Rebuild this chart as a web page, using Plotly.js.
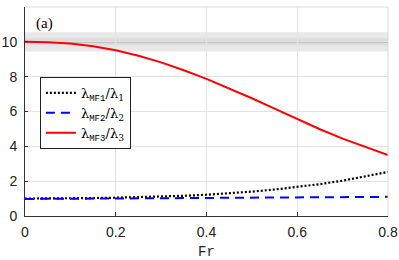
<!DOCTYPE html>
<html><head><meta charset="utf-8">
<script src="https://cdn.plot.ly/plotly-3.0.1.min.js"></script>
<style>html,body{margin:0;padding:0;background:#fff}#c{width:399px;height:260px}</style>
</head><body><div id="c"></div>
<script>
const fr = [0, 0.05, 0.1, 0.15, 0.2, 0.25, 0.3, 0.35, 0.4, 0.45, 0.5, 0.55, 0.6, 0.65, 0.7, 0.75, 0.8];
const ratio1 = [1.0, 1.0, 1.01, 1.03, 1.05, 1.08, 1.11, 1.16, 1.22, 1.3, 1.4, 1.52, 1.66, 1.83, 2.03, 2.26, 2.53];
const ratio2 = [0.98, 0.98, 0.99, 0.99, 1.0, 1.01, 1.02, 1.03, 1.04, 1.05, 1.06, 1.07, 1.08, 1.08, 1.09, 1.1, 1.1];
const ratio3 = [10.0, 9.98, 9.9, 9.75, 9.52, 9.2, 8.82, 8.37, 7.87, 7.32, 6.76, 6.16, 5.57, 4.98, 4.44, 3.95, 3.5];
const refLevel = 10;
const bandHalf = 0.55;
const names = [
  "λ<sub><span style='font-family:Liberation Mono'>MF1</span></sub>/λ<sub>1</sub>",
  "λ<sub><span style='font-family:Liberation Mono'>MF2</span></sub>/λ<sub>2</sub>",
  "λ<sub><span style='font-family:Liberation Mono'>MF3</span></sub>/λ<sub>3</sub>"
];
const xTicks = [0, 0.2, 0.4, 0.6, 0.8];
const yTicks = [0, 2, 4, 6, 8, 10, 12];

const traces = [
  {x: fr, y: ratio1, mode: 'lines', name: names[0], line: {color: '#000', width: 2.2, dash: '2px,2px'}},
  {x: fr, y: ratio2, mode: 'lines', name: names[1], line: {color: '#0000ff', width: 2, dash: '9px,6px'}},
  {x: fr, y: ratio3, mode: 'lines', name: names[2], line: {color: '#ff0000', width: 2}}
];
const shapes = [
  {type: 'rect', xref: 'paper', yref: 'y', x0: 0, x1: 1, y0: refLevel - bandHalf, y1: refLevel + bandHalf, fillcolor: '#e8e8e8', line: {width: 0}, layer: 'below'},
  {type: 'rect', xref: 'paper', yref: 'y', x0: 0, x1: 1, y0: refLevel - 0.2, y1: refLevel + 0.2, fillcolor: '#dcdcdc', line: {width: 0}, layer: 'below'},
  {type: 'line', xref: 'paper', yref: 'y', x0: 0, x1: 1, y0: refLevel, y1: refLevel, line: {color: '#a8a8a8', width: 1.5}, layer: 'below'},
  {type: 'line', xref: 'paper', yref: 'paper', x0: 1, x1: 1, y0: 0, y1: 1, line: {color: '#d9d9d9', width: 1}},
  {type: 'line', xref: 'paper', yref: 'paper', x0: 0, x1: 1, y0: 1, y1: 1, line: {color: '#d9d9d9', width: 1}}
];
const layout = {
  width: 399, height: 260,
  margin: {l: 25, r: 11, t: 7, b: 44},
  paper_bgcolor: '#fff', plot_bgcolor: '#fff',
  showlegend: true,
  legend: {x: 0.041, y: 0.665, xanchor: 'left', yanchor: 'top', bgcolor: '#fff', bordercolor: '#222', borderwidth: 1,
    font: {family: 'DejaVu Serif', size: 13, color: '#000'}, tracegroupgap: 0, itemwidth: 30},
  xaxis: {range: [0, 0.8], tickvals: xTicks, ticktext: xTicks.map(String), showgrid: true, gridcolor: '#e3e3e3', gridwidth: 1,
    zeroline: false, showline: true, linecolor: '#333', linewidth: 1, ticks: 'inside', ticklen: 4, tickcolor: '#333',
    ticklabelstandoff: 3,
    tickfont: {family: 'Liberation Sans', size: 14, color: '#222'},
    title: {text: 'Fr', font: {family: 'Liberation Mono', size: 14, color: '#222'}, standoff: 8}},
  yaxis: {range: [0, 12], tickvals: yTicks, showgrid: true, gridcolor: '#e3e3e3', gridwidth: 1,
    zeroline: false, showline: true, linecolor: '#333', linewidth: 1, ticks: 'inside', ticklen: 3, tickcolor: '#333',
    ticklabelstandoff: 4,
    tickfont: {family: 'Liberation Sans', size: 14, color: '#222'}},
  shapes: shapes,
  annotations: [{text: '(a)', xref: 'paper', yref: 'paper', x: 0.024, y: 0.919, xanchor: 'left', yanchor: 'middle', showarrow: false,
    font: {family: 'Liberation Serif', size: 15, color: '#000'}}]
};
Plotly.newPlot('c', traces, layout, {displayModeBar: false, staticPlot: true});
</script></body></html>
